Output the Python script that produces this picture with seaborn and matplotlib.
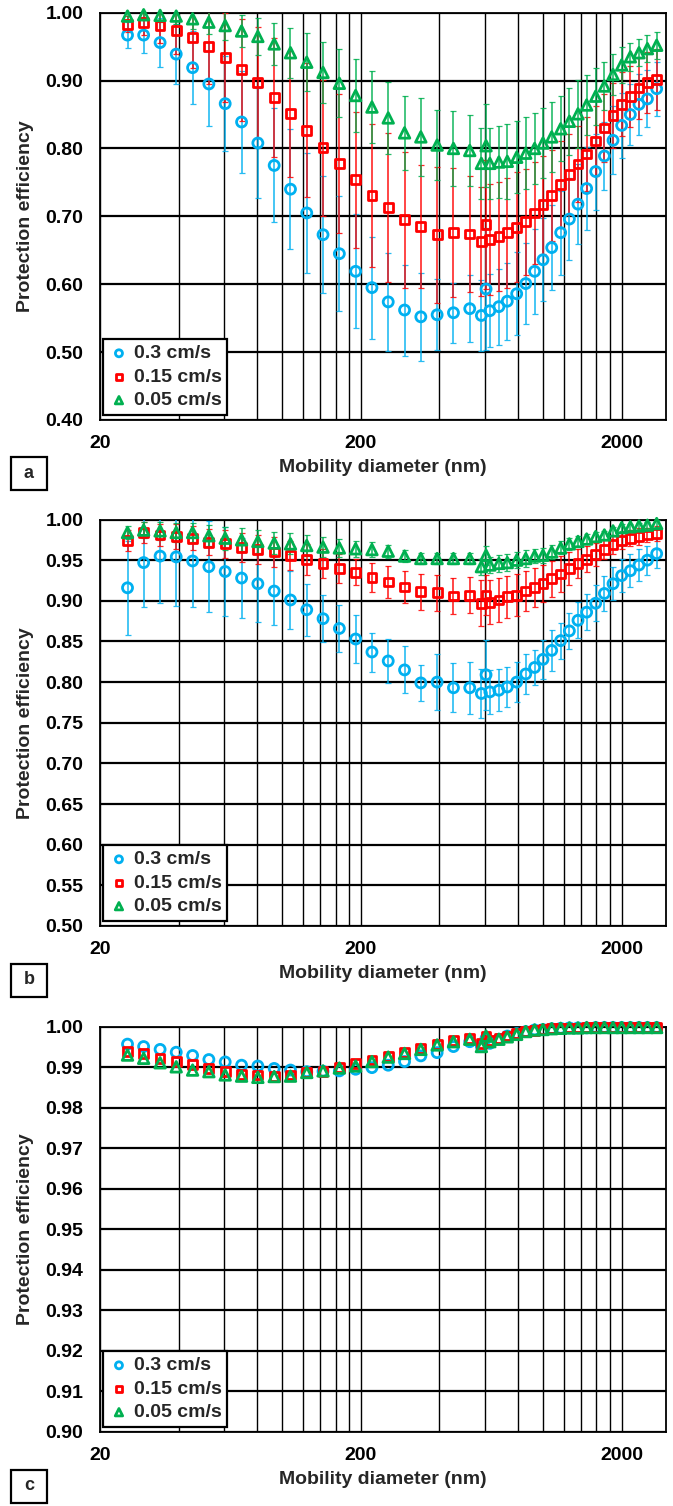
import pandas as pd
import matplotlib
matplotlib.use('Agg')
import matplotlib.pyplot as plt
import seaborn as sns
from matplotlib.ticker import FixedLocator, FixedFormatter, NullFormatter
from matplotlib.patches import Rectangle

# mobility diameters (nm): SMPS channels then APS channels
d_smps = [25.5, 29.4, 34.0, 39.2, 45.3, 52.3, 60.4, 69.8, 80.6, 93.1, 107.5, 124.1,
          143.3, 165.5, 191.1, 220.7, 254.8, 294.3, 339.8, 392.4, 453.2, 523.3, 604.3]
d_aps = [580, 625, 677, 729, 792, 858, 928, 999, 1079, 1168, 1261, 1361, 1469, 1591,
         1718, 1854, 2001, 2161, 2332, 2512, 2726]
diam = d_smps + d_aps

labels = ['0.3 cm/s', '0.15 cm/s', '0.05 cm/s']

# ---- panel a
blue_a = [0.967, 0.967, 0.956, 0.939, 0.919, 0.895, 0.866, 0.839, 0.808, 0.775, 0.740, 0.705,
          0.673, 0.645, 0.619, 0.595, 0.574, 0.562, 0.552, 0.555, 0.558, 0.564, 0.593,
          0.554, 0.561, 0.567, 0.575, 0.586, 0.601, 0.619, 0.636, 0.654, 0.676, 0.696, 0.718,
          0.741, 0.766, 0.789, 0.812, 0.834, 0.850, 0.865, 0.873, 0.888]
blue_a_err = [0.019, 0.027, 0.036, 0.044, 0.054, 0.062, 0.070, 0.075, 0.081, 0.084, 0.088, 0.088,
              0.086, 0.085, 0.084, 0.075, 0.072, 0.067, 0.065, 0.052, 0.044, 0.049, 0.090,
              0.052, 0.054, 0.056, 0.057, 0.061, 0.060, 0.063, 0.061, 0.062, 0.062, 0.061, 0.059,
              0.061, 0.056, 0.050, 0.050, 0.048, 0.045, 0.045, 0.042, 0.040]
red_a = [0.983, 0.985, 0.981, 0.974, 0.964, 0.950, 0.934, 0.916, 0.897, 0.875, 0.851, 0.827,
         0.801, 0.778, 0.754, 0.731, 0.713, 0.695, 0.685, 0.673, 0.676, 0.674, 0.688,
         0.663, 0.666, 0.670, 0.676, 0.684, 0.692, 0.705, 0.717, 0.731, 0.747, 0.762, 0.777,
         0.792, 0.811, 0.830, 0.849, 0.865, 0.877, 0.889, 0.897, 0.902]
red_a_err = [0.012, 0.018, 0.025, 0.035, 0.045, 0.055, 0.065, 0.075, 0.082, 0.088, 0.093, 0.099,
             0.100, 0.102, 0.100, 0.105, 0.110, 0.100, 0.090, 0.100, 0.095, 0.086, 0.095,
             0.080, 0.082, 0.080, 0.081, 0.081, 0.078, 0.075, 0.072, 0.067, 0.064, 0.060, 0.056,
             0.055, 0.052, 0.050, 0.048, 0.047, 0.045, 0.045, 0.045, 0.045]
green_a = [0.995, 0.997, 0.996, 0.995, 0.991, 0.986, 0.981, 0.973, 0.965, 0.954, 0.941, 0.927,
           0.912, 0.896, 0.878, 0.861, 0.845, 0.823, 0.817, 0.805, 0.800, 0.797, 0.804,
           0.778, 0.778, 0.780, 0.781, 0.787, 0.793, 0.800, 0.808, 0.817, 0.829, 0.840, 0.851,
           0.864, 0.877, 0.892, 0.909, 0.923, 0.935, 0.941, 0.947, 0.952]
green_a_err = [0.006, 0.008, 0.010, 0.012, 0.015, 0.018, 0.021, 0.024, 0.027, 0.031, 0.037, 0.043,
               0.045, 0.050, 0.054, 0.053, 0.053, 0.055, 0.057, 0.052, 0.055, 0.052, 0.061,
               0.052, 0.052, 0.053, 0.055, 0.053, 0.053, 0.052, 0.052, 0.052, 0.048, 0.049, 0.050,
               0.044, 0.042, 0.036, 0.030, 0.027, 0.021, 0.020, 0.020, 0.020]

# ---- panel b
blue_b = [0.916, 0.947, 0.955, 0.954, 0.949, 0.942, 0.936, 0.928, 0.921, 0.912, 0.901, 0.889,
          0.878, 0.866, 0.853, 0.837, 0.826, 0.815, 0.799, 0.800, 0.793, 0.793, 0.809,
          0.786, 0.788, 0.790, 0.794, 0.800, 0.810, 0.818, 0.828, 0.839, 0.851, 0.863, 0.876,
          0.886, 0.897, 0.909, 0.921, 0.931, 0.937, 0.944, 0.950, 0.958]
blue_b_err = [0.058, 0.055, 0.058, 0.061, 0.057, 0.056, 0.055, 0.049, 0.047, 0.042, 0.036, 0.032,
              0.029, 0.029, 0.029, 0.024, 0.027, 0.029, 0.022, 0.034, 0.030, 0.032, 0.043,
              0.030, 0.027, 0.026, 0.025, 0.025, 0.025, 0.022, 0.024, 0.025, 0.022, 0.022, 0.022,
              0.022, 0.022, 0.022, 0.020, 0.020, 0.020, 0.020, 0.018, 0.018]
red_b = [0.974, 0.984, 0.981, 0.979, 0.977, 0.972, 0.970, 0.966, 0.963, 0.960, 0.956, 0.951,
         0.946, 0.940, 0.935, 0.929, 0.923, 0.917, 0.911, 0.910, 0.906, 0.907, 0.907,
         0.897, 0.898, 0.901, 0.905, 0.907, 0.912, 0.916, 0.921, 0.927, 0.933, 0.940, 0.946,
         0.951, 0.957, 0.963, 0.969, 0.974, 0.977, 0.979, 0.981, 0.983]
red_b_err = [0.013, 0.013, 0.014, 0.015, 0.015, 0.016, 0.017, 0.018, 0.018, 0.018, 0.018, 0.019,
             0.018, 0.018, 0.016, 0.018, 0.020, 0.020, 0.022, 0.022, 0.022, 0.022, 0.025,
             0.028, 0.027, 0.027, 0.026, 0.026, 0.025, 0.024, 0.023, 0.022, 0.022, 0.020, 0.018,
             0.016, 0.014, 0.012, 0.011, 0.010, 0.010, 0.010, 0.009, 0.009]
green_b = [0.984, 0.987, 0.986, 0.984, 0.984, 0.980, 0.977, 0.975, 0.973, 0.971, 0.970, 0.968,
           0.966, 0.965, 0.964, 0.963, 0.961, 0.955, 0.952, 0.952, 0.952, 0.952, 0.956,
           0.942, 0.944, 0.946, 0.947, 0.950, 0.952, 0.955, 0.956, 0.960, 0.965, 0.970, 0.973,
           0.976, 0.979, 0.981, 0.986, 0.990, 0.991, 0.992, 0.993, 0.995]
green_b_err = [0.008, 0.010, 0.011, 0.012, 0.012, 0.013, 0.014, 0.014, 0.014, 0.014, 0.013, 0.013,
               0.012, 0.011, 0.010, 0.009, 0.008, 0.007, 0.007, 0.007, 0.007, 0.007, 0.012,
               0.010, 0.010, 0.010, 0.010, 0.010, 0.010, 0.009, 0.009, 0.009, 0.008, 0.007, 0.007,
               0.006, 0.006, 0.005, 0.005, 0.004, 0.004, 0.004, 0.004, 0.004]

# ---- panel c
blue_c = [0.9957, 0.9951, 0.9944, 0.9937, 0.9929, 0.9919, 0.9913, 0.9905, 0.9903, 0.9897, 0.9893,
          0.9889, 0.9890, 0.9891, 0.9895, 0.9899, 0.9905, 0.9914, 0.9928, 0.9936, 0.9951, 0.9963,
          0.9971,
          0.9951, 0.9959, 0.9969, 0.9977, 0.9983, 0.9988, 0.9992, 0.9993, 0.9995, 0.9996, 0.9997,
          0.9997, 0.9997, 0.9998, 0.9998, 0.9998, 0.9998, 0.9998, 0.9998, 0.9998, 0.9998]
red_c = [0.9938, 0.9934, 0.9922, 0.9915, 0.9907, 0.9897, 0.9889, 0.9883, 0.9881, 0.9878, 0.9881,
         0.9887, 0.9889, 0.9899, 0.9910, 0.9918, 0.9926, 0.9937, 0.9947, 0.9957, 0.9965, 0.9971,
         0.9977,
         0.9959, 0.9965, 0.9971, 0.9977, 0.9983, 0.9988, 0.9991, 0.9993, 0.9995, 0.9996, 0.9997,
         0.9997, 0.9998, 0.9998, 0.9998, 0.9998, 0.9998, 0.9998, 0.9998, 0.9998, 0.9998]
green_c = [0.9930, 0.9922, 0.9911, 0.9901, 0.9893, 0.9889, 0.9881, 0.9878, 0.9875, 0.9877, 0.9878,
           0.9887, 0.9891, 0.9898, 0.9903, 0.9914, 0.9925, 0.9934, 0.9944, 0.9955, 0.9963, 0.9969,
           0.9977,
           0.9951, 0.9963, 0.9969, 0.9975, 0.9981, 0.9988, 0.9992, 0.9993, 0.9995, 0.9996, 0.9997,
           0.9997, 0.9998, 0.9998, 0.9998, 0.9998, 0.9998, 0.9998, 0.9998, 0.9998, 0.9998]

yticks_a = [0.40, 0.50, 0.60, 0.70, 0.80, 0.90, 1.00]
yticks_b = [0.50, 0.55, 0.60, 0.65, 0.70, 0.75, 0.80, 0.85, 0.90, 0.95, 1.00]
yticks_c = [0.90, 0.91, 0.92, 0.93, 0.94, 0.95, 0.96, 0.97, 0.98, 0.99, 1.00]
xgrid_minor = [40, 60, 80, 100, 120, 140, 160, 180, 400, 600, 800, 1000, 1200, 1400, 1600, 1800]

colors = ['#00B0F0', '#FF0000', '#00B050']
markers = ['o', 's', '^']
msize = [52, 40, 58]

sns.set_style('white')
plt.rcParams['font.family'] = ['Liberation Sans', 'DejaVu Sans']
plt.rcParams['font.weight'] = 'bold'
plt.rcParams['axes.labelweight'] = 'bold'

W, H = 673, 1506
fig = plt.figure(figsize=(W / 100, H / 100), dpi=100)


def add_ax(left, top, right, bottom):
    return fig.add_axes([left / W, 1 - bottom / H, (right - left) / W, (bottom - top) / H])


panels = [
    ('a', (100, 12.7, 666, 420), yticks_a, [blue_a, red_a, green_a],
     [blue_a_err, red_a_err, green_a_err]),
    ('b', (100, 519.5, 666, 926), yticks_b, [blue_b, red_b, green_b],
     [blue_b_err, red_b_err, green_b_err]),
    ('c', (100, 1026.7, 666, 1432), yticks_c, [blue_c, red_c, green_c], None),
]

for tag, box, yticks, series, errs in panels:
    ax = add_ax(*box)
    if errs is not None:
        for vals, err, col in zip(series, errs, colors):
            ax.errorbar(diam, vals, yerr=err, fmt='none', ecolor=col, elinewidth=1.2,
                        capsize=2, capthick=0.9, alpha=0.85, zorder=3)
    for vals, lab, col, mk, s in zip(series, labels, colors, markers, msize):
        sns.scatterplot(x=diam, y=vals, marker=mk, s=s, facecolor='none', edgecolor=col,
                        linewidth=2.0, label=lab, ax=ax, zorder=4, clip_on=False)

    ax.set_xscale('log')
    ax.set_xlim(20, 2960)
    ax.set_ylim(yticks[0], yticks[-1])
    ax.xaxis.set_major_locator(FixedLocator([20, 200, 2000]))
    ax.xaxis.set_major_formatter(FixedFormatter(['20', '200', '2000']))
    ax.xaxis.set_minor_locator(FixedLocator(xgrid_minor))
    ax.xaxis.set_minor_formatter(NullFormatter())
    ax.set_yticks(yticks)
    ax.set_yticklabels([f'{t:.2f}' for t in yticks])

    ax.grid(True, which='major', axis='y', color='black', lw=1.6)
    ax.grid(True, which='both', axis='x', color='black', lw=1.0)
    ax.set_axisbelow(True)
    for sp in ax.spines.values():
        sp.set_color('black')
        sp.set_linewidth(1.3)
        sp.set_visible(True)

    ax.tick_params(axis='both', which='major', direction='out', length=6, width=1.2,
                   labelsize=14, pad=6, color='black', labelcolor='black')
    ax.tick_params(axis='x', which='minor', direction='out', length=4, width=1.0, color='black')
    ax.tick_params(axis='x', which='major', pad=5)

    ax.set_xlabel('Mobility diameter (nm)', fontsize=14, fontweight='bold', labelpad=5)
    ax.set_ylabel('Protection efficiency', fontsize=14, fontweight='bold', labelpad=8)

    leg = ax.legend(loc='lower left', bbox_to_anchor=(0.006, 0.012), borderaxespad=0,
                    prop={'size': 14, 'weight': 'bold'}, frameon=True, fancybox=False,
                    framealpha=1, edgecolor='black', markerscale=0.7, handlelength=1.0,
                    handletextpad=0.25, labelspacing=0.3, borderpad=0.3)
    leg.get_frame().set_linewidth(1.6)
    leg.set_zorder(10)

    # panel tag box
    top_px = box[3] + 37.5
    fig.patches.append(Rectangle((11 / W, 1 - (top_px + 33) / H), 36 / W, 33 / H,
                                 transform=fig.transFigure, fill=False, edgecolor='black',
                                 linewidth=1.6))
    fig.text(29 / W, 1 - (top_px + 16.5) / H, tag, ha='center', va='center', fontsize=13,
             fontweight='bold')

fig.savefig('out.png', dpi=100)
